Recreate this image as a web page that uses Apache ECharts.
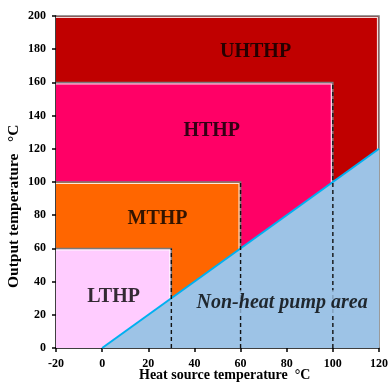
<!DOCTYPE html>
<html><head><meta charset="utf-8">
<script src="https://cdn.jsdelivr.net/npm/echarts@6/dist/echarts.min.js"></script>
<style>html,body{margin:0;padding:0;background:#fff}#c{width:391px;height:382px}</style>
</head><body><div id="c"></div>
<script>
// Regions (rectangles from x=-20, y=0 up to these limits)
const regionNames = ['UHTHP', 'HTHP', 'MTHP', 'LTHP'];
const regionXMax = [120, 100, 60, 30];
const regionYMax = [200, 160, 100, 60];
const regionColors = ['#c00000', '#ff0066', '#ff6600', '#ffccff'];
const xMinValue = -20;
// Non-heat pump boundary line (output = source temperature)
const boundaryX = [0, 120];
const boundaryY = [0, 120];
// Dashed vertical lines
const dashX = [30, 60, 100];
const dashTop = [60, 100, 160];
// Label positions
const labelNames = ['UHTHP', 'HTHP', 'MTHP', 'LTHP'];
const labelX = [66.5, 47.5, 24, 5];
const labelY = [178.5, 131, 78, 31];
const areaLabel = 'Non-heat pump area';
const areaLabelX = [78];
const areaLabelY = [27.5];
// Axis ticks
const xTicks = [-20, 0, 20, 40, 60, 80, 100, 120];
const yTicks = [0, 20, 40, 60, 80, 100, 120, 140, 160, 180, 200];

const serif = '"Liberation Serif", "Times New Roman", serif';
const chart = echarts.init(document.getElementById('c'));

const rectData = regionNames.map((n, i) => ({name: n, value: [xMinValue, 0, regionXMax[i], regionYMax[i]], itemStyle: {color: regionColors[i]}}));

chart.setOption({
  animation: false,
  grid: {left: 56, right: 10, top: 16, bottom: 34},
  xAxis: {
    type: 'value', min: xTicks[0], max: xTicks[xTicks.length - 1], interval: 20,
    splitLine: {show: false},
    axisLine: {onZero: false, lineStyle: {color: '#000', width: 1.5}},
    axisTick: {show: true, length: 4, lineStyle: {color: '#000', width: 1.5}},
    axisLabel: {color: '#000', fontFamily: serif, fontWeight: 'bold', fontSize: 12, margin: 10}
  },
  yAxis: {
    type: 'value', min: yTicks[0], max: yTicks[yTicks.length - 1], interval: 20,
    splitLine: {show: false},
    axisLine: {onZero: false, lineStyle: {color: '#000', width: 1.5}},
    axisTick: {show: true, length: 4, lineStyle: {color: '#000', width: 1.5}},
    axisLabel: {color: '#000', fontFamily: serif, fontWeight: 'bold', fontSize: 12, margin: 10}
  },
  graphic: [
    {type: 'text', left: 139, top: 368, style: {text: 'Heat source temperature  \u00B0C', fill: '#000', font: 'bold 14px ' + serif}},
    {type: 'text', x: 6, y: 288, rotation: Math.PI / 2, style: {text: 'Output temperature   \u00B0C', fill: '#000', font: 'bold 15.5px ' + serif}}
  ],
  series: [
    {
      type: 'custom', z: 1,
      data: rectData,
      renderItem: function (params, api) {
        const p0 = api.coord([api.value(0), api.value(1)]);
        const p1 = api.coord([api.value(2), api.value(3)]);
        const color = api.visual('color');
        return {type: 'group', children: [
          {type: 'rect', shape: {x: p0[0], y: p1[1], width: p1[0] - p0[0], height: p0[1] - p1[1]}, style: {fill: color}},
          {type: 'polyline', shape: {points: [[p0[0], p1[1] + 1.5], [p1[0] - 1.5, p1[1] + 1.5], [p1[0] - 1.5, p0[1]]]}, style: {stroke: 'rgba(255,255,255,0.85)', lineWidth: 1.2, fill: null}},
          {type: 'polyline', shape: {points: [[p0[0], p1[1]], [p1[0], p1[1]], [p1[0], p0[1]]]}, style: {stroke: '#7a7a7a', lineWidth: 1.5, fill: null}}
        ]};
      }
    },
    {
      type: 'line', z: 3, symbol: 'none',
      data: boundaryX.map((x, i) => [x, boundaryY[i]]),
      lineStyle: {color: '#00b0f0', width: 2},
      areaStyle: {color: '#9dc3e6', opacity: 1}
    },
    {
      type: 'custom', z: 4,
      data: dashX.map((x, i) => [x, dashTop[i]]),
      renderItem: function (params, api) {
        const a = api.coord([api.value(0), 0]);
        const b = api.coord([api.value(0), api.value(1)]);
        return {type: 'line', shape: {x1: a[0], y1: a[1], x2: b[0], y2: b[1]}, style: {stroke: '#111', lineWidth: 1.4, lineDash: [4, 3]}};
      }
    },
    {
      type: 'scatter', z: 6, symbolSize: 0,
      data: labelNames.map((n, i) => ({name: n, value: [labelX[i], labelY[i]]})),
      label: {show: true, position: 'inside', formatter: '{b}', color: '#000', fontFamily: serif, fontWeight: 'bold', fontSize: 20}
    },
    {
      type: 'scatter', z: 6, symbolSize: 0,
      data: [{name: areaLabel, value: [areaLabelX[0], areaLabelY[0]]}],
      label: {show: true, position: 'inside', formatter: '{b}', color: '#000', fontFamily: serif, fontWeight: 'bold', fontStyle: 'italic', fontSize: 20, backgroundColor: '#9dc3e6', padding: [2, 1]}
    }
  ]
});
</script></body></html>
